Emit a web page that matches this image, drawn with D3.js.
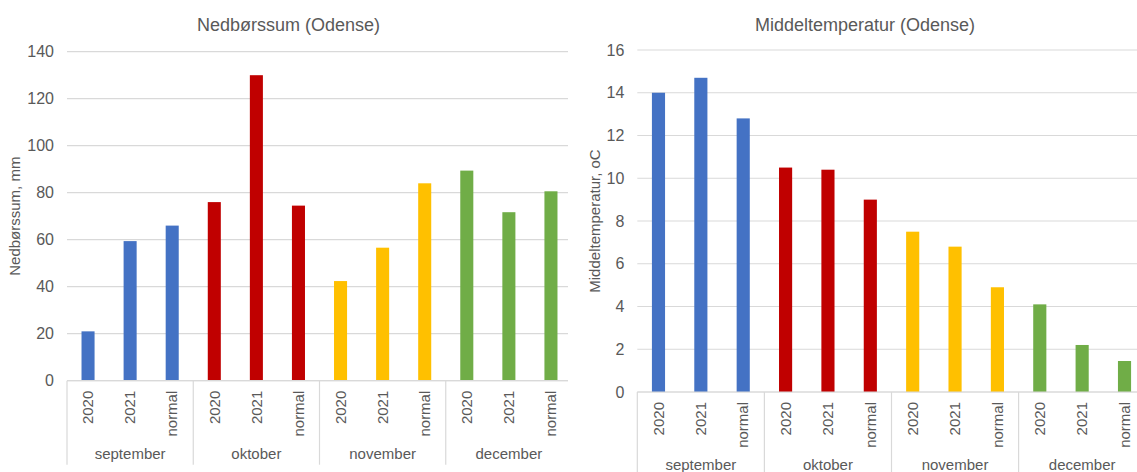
<!DOCTYPE html>
<html>
<head>
<meta charset="utf-8">
<script src="https://cdn.jsdelivr.net/npm/d3@7"></script>
<style>
  html, body { margin: 0; padding: 0; background: #fff; }
  svg { display: block; font-family: "Liberation Sans", Arial, sans-serif; }
</style>
</head>
<body>
<svg id="chart" width="1137" height="472"></svg>
<script>
// ---- data ----
const months = ["september", "oktober", "november", "december"];
const periods = ["2020", "2021", "normal"];
const monthColors = ["#4472C4", "#C00000", "#FFC000", "#70AD47"];

const precipTitle = "Nedbørssum (Odense)";
const precipAxisTitle = "Nedbørssum, mm";
const precipTicks = [0, 20, 40, 60, 80, 100, 120, 140];
const precipValues = [21, 59.4, 66, 76, 130, 74.5, 42.4, 56.6, 84, 89.4, 71.7, 80.6];

const tempTitle = "Middeltemperatur (Odense)";
const tempAxisTitle = "Middeltemperatur, oC";
const tempTicks = [0, 2, 4, 6, 8, 10, 12, 14, 16];
const tempValues = [14.0, 14.7, 12.8, 10.5, 10.4, 9.0, 7.5, 6.8, 4.9, 4.1, 2.2, 1.45];

// ---- drawing ----
const svg = d3.select("#chart");
const textColor = "#595959";
const gridColor = "#d9d9d9";

function buildRows(values) {
  const rows = [];
  months.forEach((m, mi) => {
    periods.forEach((p, pi) => {
      rows.push({ key: m + "|" + p, month: m, mi: mi, period: p, value: values[mi * 3 + pi] });
    });
  });
  return rows;
}

function drawChart(cfg) {
  const g = svg.append("g");
  const rows = buildRows(cfg.values);

  const x = d3.scaleBand().domain(rows.map(r => r.key)).range([cfg.x0, cfg.x1]).padding(0);
  const y = d3.scaleLinear().domain([0, d3.max(cfg.ticks)]).range([cfg.yBottom, cfg.yTop]);
  const xg = d3.scaleBand().domain(months).range([cfg.x0, cfg.x1]).padding(0);

  // gridlines
  g.append("g").selectAll("line").data(cfg.ticks).join("line")
    .attr("x1", cfg.x0).attr("x2", cfg.gridEnd)
    .attr("y1", d => y(d)).attr("y2", d => y(d))
    .attr("stroke", gridColor).attr("stroke-width", 1.2);

  // y tick labels
  g.append("g").selectAll("text").data(cfg.ticks).join("text")
    .attr("x", cfg.x0 - 13).attr("y", d => y(d)).attr("dy", "0.35em")
    .attr("text-anchor", "end").attr("fill", textColor)
    .style("font-size", "16px").text(d => d);

  // bars
  const bw = x.bandwidth() * 0.31;
  g.append("g").selectAll("rect").data(rows).join("rect")
    .attr("x", d => x(d.key) + x.bandwidth() / 2 - bw / 2)
    .attr("width", bw)
    .attr("y", d => y(d.value))
    .attr("height", d => y(0) - y(d.value))
    .attr("fill", d => monthColors[d.mi]);

  // baseline
  g.append("line").attr("x1", cfg.x0).attr("x2", cfg.gridEnd)
    .attr("y1", y(0)).attr("y2", y(0))
    .attr("stroke", gridColor).attr("stroke-width", 1.2);

  // group separators
  g.append("g").selectAll("line").data(months).join("line")
    .attr("x1", d => xg(d)).attr("x2", d => xg(d))
    .attr("y1", y(0)).attr("y2", y(0) + 84)
    .attr("stroke", gridColor).attr("stroke-width", 1.2);

  // period labels (rotated)
  g.append("g").selectAll("text").data(rows).join("text")
    .attr("transform", d => `translate(${x(d.key) + x.bandwidth() / 2},${y(0) + 10}) rotate(-90)`)
    .attr("dy", "0.35em")
    .attr("text-anchor", "end").attr("fill", textColor)
    .style("font-size", "15px").text(d => d.period);

  // month labels
  g.append("g").selectAll("text").data(months).join("text")
    .attr("x", d => xg(d) + xg.bandwidth() / 2)
    .attr("y", y(0) + 78)
    .attr("text-anchor", "middle").attr("fill", textColor)
    .style("font-size", "15px").text(d => d);

  // title
  g.append("text").attr("x", cfg.titleX).attr("y", 31)
    .attr("text-anchor", "middle").attr("fill", textColor)
    .style("font-size", "18px").text(cfg.title);

  // axis title
  g.append("text")
    .attr("transform", `translate(${cfg.axisTitleX},${(cfg.yTop + cfg.yBottom) / 2}) rotate(-90)`)
    .attr("dy", "0.35em")
    .attr("text-anchor", "middle").attr("fill", textColor)
    .style("font-size", "15px").text(cfg.axisTitle);
}

drawChart({
  values: precipValues, ticks: precipTicks, title: precipTitle, axisTitle: precipAxisTitle,
  x0: 67, x1: 572, gridEnd: 568, yTop: 51.7, yBottom: 380.7,
  titleX: 288.5, axisTitleX: 15
});

drawChart({
  values: tempValues, ticks: tempTicks, title: tempTitle, axisTitle: tempAxisTitle,
  x0: 637.3, x1: 1145.7, gridEnd: 1137, yTop: 50, yBottom: 392,
  titleX: 865, axisTitleX: 595
});
</script>
</body>
</html>
